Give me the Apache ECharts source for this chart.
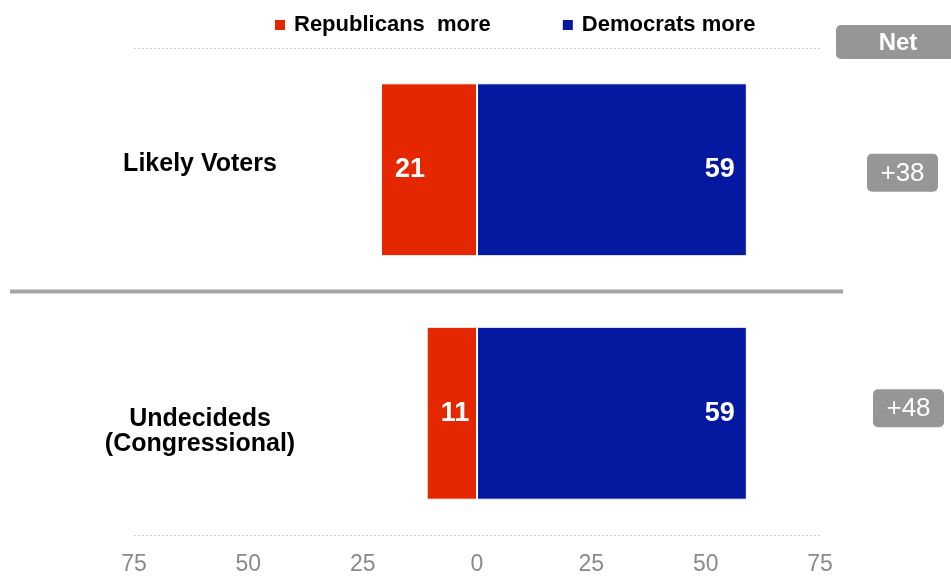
<!DOCTYPE html>
<html>
<head>
<meta charset="utf-8">
<script src="https://cdn.jsdelivr.net/npm/echarts@6/dist/echarts.min.js"></script>
<style>
html,body{margin:0;padding:0;background:#fff;}
#chart{width:951px;height:576px;}
</style>
</head>
<body>
<div id="chart"></div>
<script>
// ---- data ----
var categories = ['Likely Voters', 'Undecideds\n(Congressional)'];
var seriesNames = ['Republicans  more', 'Democrats more'];
var republicansMore = [21, 11];
var democratsMore = [59, 59];
var xTicks = [-75, -50, -25, 0, 25, 50, 75];

var FONT = '"Liberation Sans", Arial, sans-serif';
var RED = '#E52700';
var BLUE = '#0419A0';

var chart = echarts.init(document.getElementById('chart'), null, {renderer: 'canvas'});

var catStyle = {fontFamily: FONT, fontSize: 25, fontWeight: 'bold', color: '#000', lineHeight: 25};

var option = {
  animation: false,
  textStyle: {fontFamily: FONT},
  legend: {
    data: seriesNames,
    left: 268,
    top: 9,
    icon: 'rect',
    itemWidth: 12,
    itemHeight: 12,
    itemGap: 70,
    textStyle: {fontFamily: FONT, fontSize: 22, fontWeight: 'bold', color: '#000', padding: [0, 0, 0, 3]}
  },
  grid: {left: 134, right: 131, top: 48, bottom: 40, containLabel: false},
  xAxis: {
    type: 'value',
    min: xTicks[0],
    max: xTicks[xTicks.length - 1],
    interval: 25,
    axisLine: {show: false},
    axisTick: {show: false},
    splitLine: {show: false},
    axisLabel: {
      margin: 18,
      fontFamily: '"Liberation Sans Narrow", "Arial Narrow", ' + FONT,
      fontSize: 23,
      color: '#8a8a8a',
      formatter: function (v) { return String(Math.abs(v)); }
    }
  },
  yAxis: {
    type: 'category',
    inverse: true,
    data: categories,
    axisLine: {show: false},
    axisTick: {show: false},
    splitLine: {show: true, lineStyle: {color: '#cfcfcf', type: [2, 2], width: 1}},
    axisLabel: {
      margin: -66,
      align: 'center',
      fontFamily: FONT,
      fontSize: 25,
      fontWeight: 'bold',
      color: '#000',
      formatter: function (v, i) {
        var lines = v.split('\n').map(function (l) { return '{c|' + l + '}'; });
        if (i === 0) return lines.join('\n') + '\n{sb|}';
        return '{st|}\n' + lines.join('\n');
      },
      rich: {
        c: catStyle,
        sb: {lineHeight: 12, fontSize: 8},
        st: {lineHeight: 37, fontSize: 10}
      }
    }
  },
  series: [
    {
      name: seriesNames[0],
      type: 'bar',
      stack: 'net',
      barWidth: '71%',
      data: republicansMore.map(function (v) { return -v; }),
      itemStyle: {color: RED, borderColor: '#fff', borderWidth: 1},
      label: {
        show: true,
        position: 'insideLeft',
        distance: 14,
        color: '#fff',
        fontFamily: FONT,
        fontSize: 27,
        fontWeight: 'bold',
        formatter: function (p) { return String(Math.abs(p.value)); }
      }
    },
    {
      name: seriesNames[1],
      type: 'bar',
      stack: 'net',
      barWidth: '71%',
      data: democratsMore,
      itemStyle: {color: BLUE, borderColor: '#fff', borderWidth: 1},
      label: {
        show: true,
        position: 'insideRight',
        distance: 12,
        color: '#fff',
        fontFamily: FONT,
        fontSize: 27,
        fontWeight: 'bold'
      }
    }
  ]
};
chart.setOption(option);

// annotations derived from data and axis positions
var GRAY = '#969696';
var centers = categories.map(function (c) { return chart.convertToPixel({yAxisIndex: 0}, c); });
var sepY = (centers[0] + centers[1]) / 2;
var boxX = [867, 873];
var boxDy = [3, -5];
var graphics = [
  {
    type: 'line', z: 10,
    shape: {x1: 10, y1: sepY, x2: 843, y2: sepY},
    style: {stroke: '#a6a6a6', lineWidth: 4}
  },
  {
    type: 'rect', z: 10,
    shape: {x: 836, y: 25, width: 130, height: 34, r: 5},
    style: {fill: GRAY}
  },
  {
    type: 'text', z: 11,
    x: 898, y: 43,
    style: {text: 'Net', fill: '#fff', font: 'bold 24px ' + FONT, align: 'center', verticalAlign: 'middle'}
  }
];
categories.forEach(function (c, i) {
  var net = democratsMore[i] - republicansMore[i];
  var cy = centers[i] + boxDy[i];
  graphics.push({
    type: 'rect', z: 10,
    shape: {x: boxX[i], y: cy - 19, width: 71, height: 38, r: 5},
    style: {fill: GRAY}
  });
  graphics.push({
    type: 'text', z: 11,
    x: boxX[i] + 35.5, y: cy + 1,
    style: {text: (net > 0 ? '+' : '') + net, fill: '#fff', font: '26px ' + FONT, align: 'center', verticalAlign: 'middle'}
  });
});
chart.setOption({graphic: graphics});
</script>
</body>
</html>
